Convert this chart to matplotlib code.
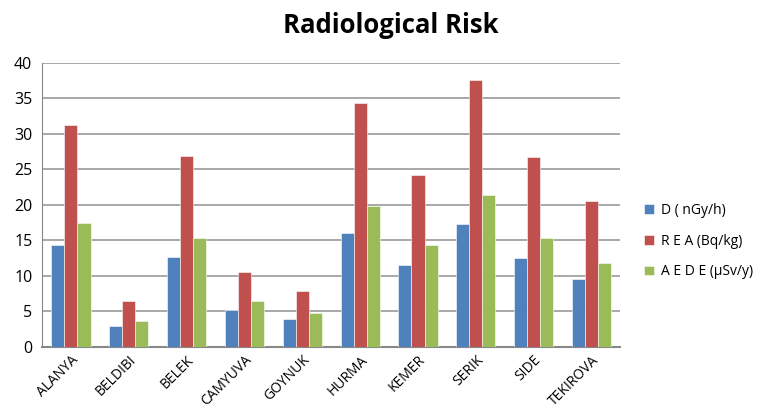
import matplotlib
matplotlib.use("Agg")
import matplotlib.pyplot as plt
import numpy as np

categories = ["ALANYA", "BELDIBI", "BELEK", "CAMYUVA", "GOYNUK", "HURMA", "KEMER", "SERIK", "SIDE", "TEKIROVA"]
series_names = ["D ( nGy/h)", "R E A (Bq/kg)", "A E D E (\u03bcSv/y)"]
d_vals = [14.3, 3.0, 12.7, 5.2, 3.9, 16.1, 11.6, 17.3, 12.5, 9.6]
rea_vals = [31.3, 6.4, 26.9, 10.6, 7.9, 34.4, 24.2, 37.6, 26.7, 20.5]
aede_vals = [17.5, 3.7, 15.4, 6.4, 4.8, 19.9, 14.3, 21.4, 15.4, 11.8]
colors = ["#4F81BD", "#C0504D", "#9BBB59"]

plt.rcParams['font.family'] = ['Open Sans', 'DejaVu Sans']

fig = plt.figure(figsize=(7.65, 4.2), dpi=100)
ax = fig.add_axes([0.055, 0.174, 0.756, 0.676])

x = np.arange(len(categories))
w = 0.225
for i, (vals, name) in enumerate(zip([d_vals, rea_vals, aede_vals], series_names)):
    ax.bar(x + (i - 1) * w, vals, width=w, color=colors[i], label=name,
           edgecolor="white", linewidth=0.4, zorder=3)

ax.set_xlim(-0.5, len(categories) - 0.5)
ax.set_ylim(0, 40)
ax.set_yticks(range(0, 41, 5))
ax.yaxis.grid(True, color="#999999", linewidth=1.2, zorder=0)
ax.set_axisbelow(True)
for s in ["top", "right"]:
    ax.spines[s].set_visible(False)
ax.spines["left"].set_color("#888888")
ax.spines["bottom"].set_color("#888888")
ax.spines["bottom"].set_linewidth(1.5)
ax.tick_params(axis="y", length=0, labelsize=11.5, pad=7)
ax.tick_params(axis="x", length=0, labelsize=10, pad=4)
ax.set_xticks(x)
ax.set_xticklabels(categories, rotation=45, ha="right", rotation_mode="anchor")

fig.text(0.511, 0.94, "Radiological Risk", ha="center", va="center", fontsize=18.5, fontweight="bold")

leg = ax.legend(loc="center left", bbox_to_anchor=(1.02, 0.373), frameon=False,
                fontsize=10, handlelength=0.7, handleheight=0.7, labelspacing=1.15,
                handletextpad=0.5)

fig.savefig("out.png", dpi=100)
